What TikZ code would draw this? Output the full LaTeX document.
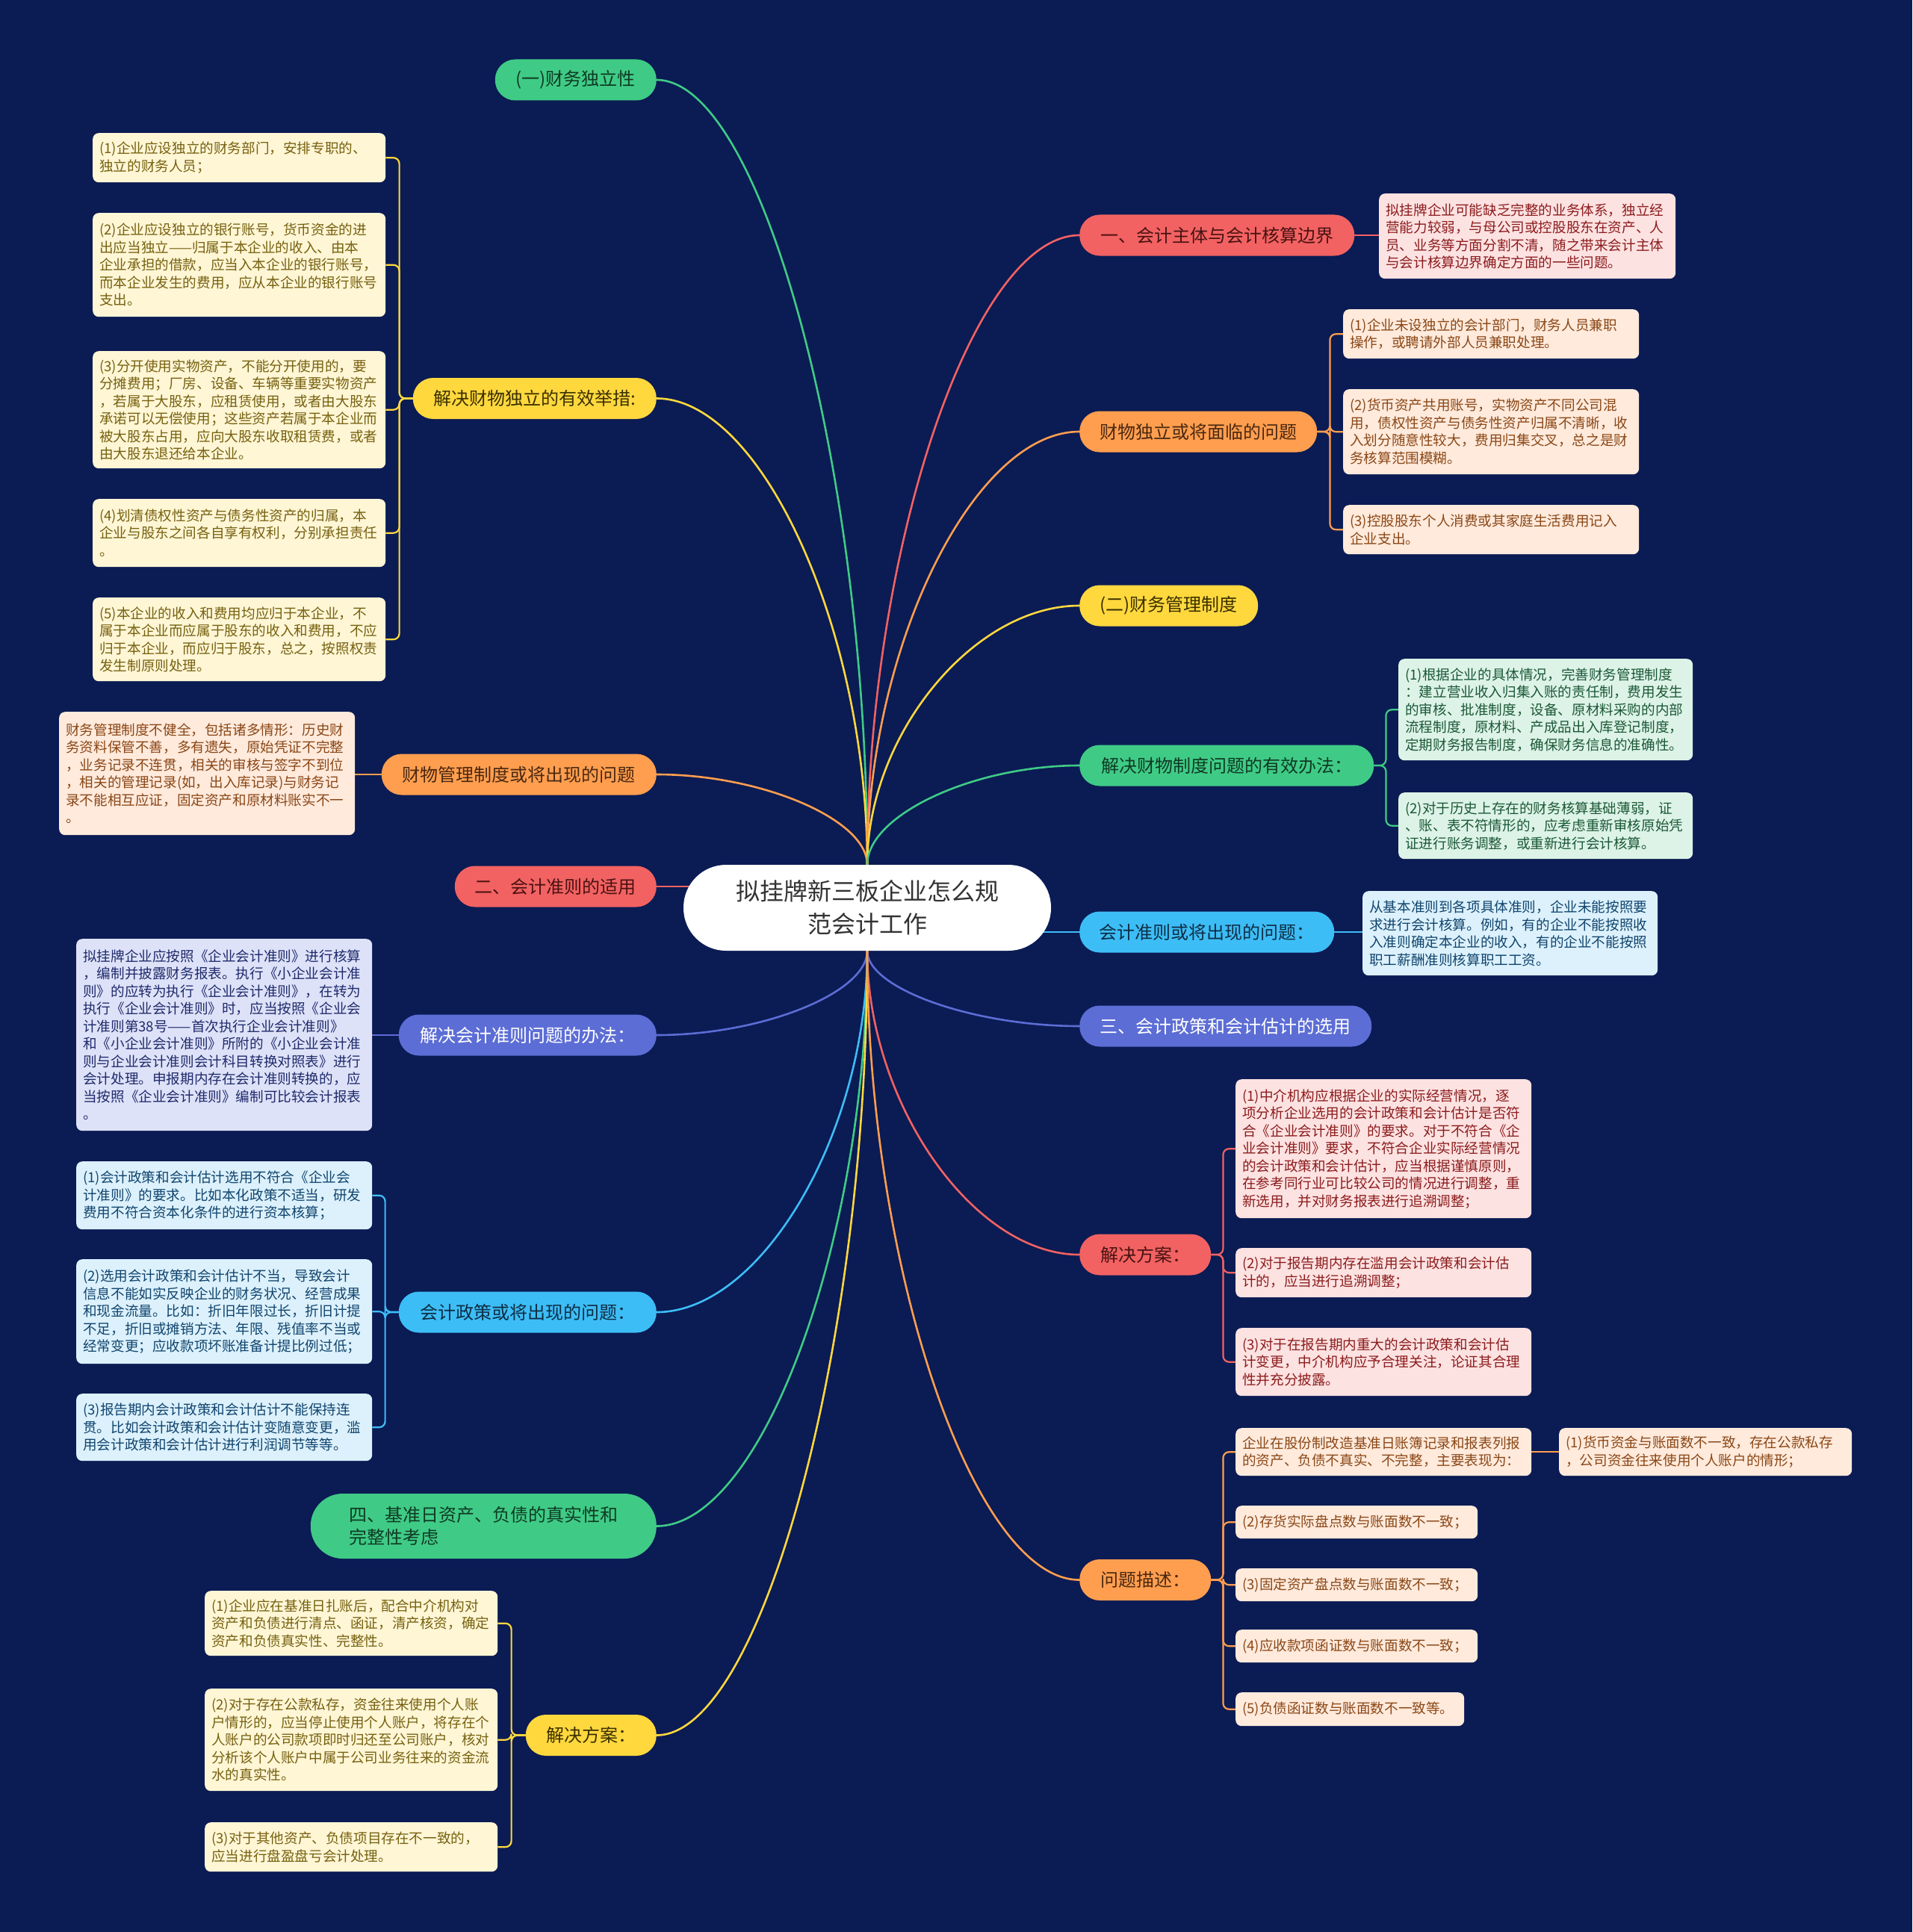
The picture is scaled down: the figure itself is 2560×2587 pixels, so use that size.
\documentclass[tikz,border=0pt]{standalone}
\usepackage{fontspec}
\setmainfont{Noto Sans CJK SC}
\usetikzlibrary{calc}
\pgfdeclarelayer{bg}
\pgfsetlayers{bg,main}
\definecolor{bgc}{HTML}{0B1B54}
\definecolor{cred}{HTML}{F26262}
\definecolor{corg}{HTML}{FF9E4F}
\definecolor{cyel}{HTML}{FFD83E}
\definecolor{cgrn}{HTML}{3FCB86}
\definecolor{cblu}{HTML}{3DBDF6}
\definecolor{cind}{HTML}{5C6DD5}
\definecolor{tred}{HTML}{4A1212}
\definecolor{torg}{HTML}{4A2810}
\definecolor{tyel}{HTML}{3A3000}
\definecolor{tgrn}{HTML}{0F3A24}
\definecolor{tblu}{HTML}{0D2E45}
\definecolor{lyel}{HTML}{FFF6D6}
\definecolor{lorg}{HTML}{FFEADC}
\definecolor{lred}{HTML}{FDE2E2}
\definecolor{lgrn}{HTML}{DDF3E7}
\definecolor{lblu}{HTML}{DCF1FC}
\definecolor{lind}{HTML}{DEE2F8}
\definecolor{kyel}{HTML}{76610F}
\definecolor{korg}{HTML}{8A4716}
\definecolor{kred}{HTML}{8C1C1C}
\definecolor{kgrn}{HTML}{1B5836}
\definecolor{kblu}{HTML}{11456E}
\definecolor{kind}{HTML}{1E2A6B}
\tikzset{
  mnode/.style={rounded corners=27pt, minimum height=55pt, inner xsep=10pt, inner ysep=0pt, font=\fontsize{24}{30}\selectfont},
  mred/.style={mnode, fill=cred, text=tred},
  morg/.style={mnode, fill=corg, text=torg},
  myel/.style={mnode, fill=cyel, text=tyel},
  mgrn/.style={mnode, fill=cgrn, text=tgrn},
  mblu/.style={mnode, fill=cblu, text=tblu},
  mind/.style={mnode, fill=cind, text=white},
  lf/.style={rounded corners=8pt, anchor=north west, inner xsep=9pt, inner ysep=0pt, align=left, font=\fontsize{18.6}{23.5}\selectfont},
  fyel/.style={lf, fill=lyel, text=kyel},
  forg/.style={lf, fill=lorg, text=korg},
  fred/.style={lf, fill=lred, text=kred},
  fgrn/.style={lf, fill=lgrn, text=kgrn},
  fblu/.style={lf, fill=lblu, text=kblu},
  find/.style={lf, fill=lind, text=kind},
  lk/.style={line width=2.6pt},
  bk/.style={line width=2.2pt, rounded corners=8pt},
}
\newcommand\mmlink[3]{\draw[lk,#1] (#2) .. controls ($(#2)!0.5!(#2 -| #3)$) and ($(#3)!0.5!(#3 |- #2)$) .. (#3);}
\newcommand\brk[4]{\draw[bk,#1] (#2) -- ++(#3,0) |- (#4);}
\begin{document}
\begin{tikzpicture}[x=1pt,y=-1pt]
\begin{pgfonlayer}{bg}
\fill[bgc] (0,0) rectangle (2560,2587);
\end{pgfonlayer}
\useasboundingbox (0,0) rectangle (2560,2587);

% center
\node[fill=white, rounded corners=57pt, minimum width=492pt, minimum height=115pt, align=center, text=black!80, font=\fontsize{32}{44}\selectfont] (C) at (1161,1215.5) {拟挂牌新三板企业怎么规\\范会计工作};

% main nodes left
\node[mgrn, anchor=east, minimum width=216pt] (n1) at (879,107) {(一)财务独立性};
\node[myel, anchor=east, minimum width=326pt] (n2) at (879,533.5) {解决财物独立的有效举措:};
\node[morg, anchor=east, minimum width=368pt] (n3) at (879,1037) {财物管理制度或将出现的问题};
\node[mred, anchor=east, minimum width=270pt] (n4) at (879,1187) {二、会计准则的适用};
\node[mind, anchor=east, minimum width=345pt] (n5) at (879,1386) {解决会计准则问题的办法：};
\node[mblu, anchor=east, minimum width=345pt] (n6) at (879,1757) {会计政策或将出现的问题：};
\node[mgrn, anchor=east, minimum width=463pt, minimum height=87pt, rounded corners=43pt, align=left] (n7) at (879,2043.5) {四、基准日资产、负债的真实性和\\完整性考虑};
\node[myel, anchor=east, minimum width=175pt] (n8) at (879,2323.5) {解决方案：};

% main nodes right
\node[mred, anchor=west, minimum width=368pt] (n9) at (1445,315) {一、会计主体与会计核算边界};
\node[morg, anchor=west, minimum width=318pt] (n10) at (1445,578) {财物独立或将面临的问题};
\node[myel, anchor=west, minimum width=239pt] (n11) at (1445,811) {(二)财务管理制度};
\node[mgrn, anchor=west, minimum width=394pt] (n12) at (1445,1025) {解决财物制度问题的有效办法：};
\node[mblu, anchor=west, minimum width=341pt] (n13) at (1445,1248) {会计准则或将出现的问题：};
\node[mind, anchor=west, minimum width=391pt] (n14) at (1445,1374) {三、会计政策和会计估计的选用};
\node[mred, anchor=west, minimum width=176pt] (n15) at (1445,1680) {解决方案：};
\node[morg, anchor=west, minimum width=176pt] (n16) at (1445,2115.5) {问题描述：};

% left leaves
\node[fyel, text width=374pt, minimum height=66pt] (a1) at (124,178) {(1)企业应设独立的财务部门，安排专职的、\\独立的财务人员；};
\node[fyel, text width=374pt, minimum height=139pt] (a2) at (124,285) {(2)企业应设独立的银行账号，货币资金的进\\出应当独立——归属于本企业的收入、由本\\企业承担的借款，应当入本企业的银行账号，\\而本企业发生的费用，应从本企业的银行账号\\支出。};
\node[fyel, text width=374pt, minimum height=157pt] (a3) at (124,470) {(3)分开使用实物资产，不能分开使用的，要\\分摊费用；厂房、设备、车辆等重要实物资产\\，若属于大股东，应租赁使用，或者由大股东\\承诺可以无偿使用；这些资产若属于本企业而\\被大股东占用，应向大股东收取租赁费，或者\\由大股东退还给本企业。};
\node[fyel, text width=374pt, minimum height=91pt] (a4) at (124,668) {(4)划清债权性资产与债务性资产的归属，本\\企业与股东之间各自享有权利，分别承担责任\\。};
\node[fyel, text width=374pt, minimum height=112pt] (a5) at (124,800) {(5)本企业的收入和费用均应归于本企业，不\\属于本企业而应属于股东的收入和费用，不应\\归于本企业，而应归于股东，总之，按照权责\\发生制原则处理。};

\node[forg, text width=378pt, minimum height=165pt] (m1) at (79,953) {财务管理制度不健全，包括诸多情形：历史财\\务资料保管不善，多有遗失，原始凭证不完整\\，业务记录不连贯，相关的审核与签字不到位\\，相关的管理记录(如，出入库记录)与财务记\\录不能相互应证，固定资产和原材料账实不一\\。};

\node[find, text width=378pt, minimum height=257pt] (k1) at (102,1257) {拟挂牌企业应按照《企业会计准则》进行核算\\，编制并披露财务报表。执行《小企业会计准\\则》的应转为执行《企业会计准则》，在转为\\执行《企业会计准则》时，应当按照《企业会\\计准则第38号——首次执行企业会计准则》\\和《小企业会计准则》所附的《小企业会计准\\则与企业会计准则会计科目转换对照表》进行\\会计处理。申报期内存在会计准则转换的，应\\当按照《企业会计准则》编制可比较会计报表\\。};

\node[fblu, text width=378pt, minimum height=91pt] (p1) at (102,1555) {(1)会计政策和会计估计选用不符合《企业会\\计准则》的要求。比如本化政策不适当，研发\\费用不符合资本化条件的进行资本核算；};
\node[fblu, text width=378pt, minimum height=140pt] (p2) at (102,1686) {(2)选用会计政策和会计估计不当，导致会计\\信息不能如实反映企业的财务状况、经营成果\\和现金流量。比如：折旧年限过长，折旧计提\\不足，折旧或摊销方法、年限、残值率不当或\\经常变更；应收款项坏账准备计提比例过低；};
\node[fblu, text width=378pt, minimum height=90pt] (p3) at (102,1866) {(3)报告期内会计政策和会计估计不能保持连\\贯。比如会计政策和会计估计变随意变更，滥\\用会计政策和会计估计进行利润调节等等。};

\node[fyel, text width=374pt, minimum height=87pt] (q1) at (274,2130) {(1)企业应在基准日扎账后，配合中介机构对\\资产和负债进行清点、函证，清产核资，确定\\资产和负债真实性、完整性。};
\node[fyel, text width=374pt, minimum height=137pt] (q2) at (274,2261) {(2)对于存在公款私存，资金往来使用个人账\\户情形的，应当停止使用个人账户，将存在个\\人账户的公司款项即时归还至公司账户，核对\\分析该个人账户中属于公司业务往来的资金流\\水的真实性。};
\node[fyel, text width=374pt, minimum height=66pt] (q3) at (274,2440) {(3)对于其他资产、负债项目存在不一致的，\\应当进行盘盈盘亏会计处理。};

% right leaves
\node[fred, text width=379pt, minimum height=114pt] (r1) at (1846,259) {拟挂牌企业可能缺乏完整的业务体系，独立经\\营能力较弱，与母公司或控股股东在资产、人\\员、业务等方面分割不清，随之带来会计主体\\与会计核算边界确定方面的一些问题。};

\node[forg, text width=378pt, minimum height=66pt] (b1) at (1798,414) {(1)企业未设独立的会计部门，财务人员兼职\\操作，或聘请外部人员兼职处理。};
\node[forg, text width=378pt, minimum height=114pt] (b2) at (1798,521) {(2)货币资产共用账号，实物资产不同公司混\\用，债权性资产与债务性资产归属不清晰，收\\入划分随意性较大，费用归集交叉，总之是财\\务核算范围模糊。};
\node[forg, text width=378pt, minimum height=66pt] (b3) at (1798,676) {(3)控股股东个人消费或其家庭生活费用记入\\企业支出。};

\node[fgrn, text width=376pt, minimum height=136pt] (g1) at (1872,882) {(1)根据企业的具体情况，完善财务管理制度\\：建立营业收入归集入账的责任制，费用发生\\的审核、批准制度，设备、原材料采购的内部\\流程制度，原材料、产成品出入库登记制度，\\定期财务报告制度，确保财务信息的准确性。};
\node[fgrn, text width=376pt, minimum height=89pt] (g2) at (1872,1061) {(2)对于历史上存在的财务核算基础薄弱，证\\、账、表不符情形的，应考虑重新审核原始凭\\证进行账务调整，或重新进行会计核算。};

\node[fblu, text width=377pt, minimum height=113pt] (d1) at (1824,1193) {从基本准则到各项具体准则，企业未能按照要\\求进行会计核算。例如，有的企业不能按照收\\入准则确定本企业的收入，有的企业不能按照\\职工薪酬准则核算职工工资。};

\node[fred, text width=378pt, minimum height=186pt] (e1) at (1654,1445) {(1)中介机构应根据企业的实际经营情况，逐\\项分析企业选用的会计政策和会计估计是否符\\合《企业会计准则》的要求。对于不符合《企\\业会计准则》要求，不符合企业实际经营情况\\的会计政策和会计估计，应当根据谨慎原则，\\在参考同行业可比较公司的情况进行调整，重\\新选用，并对财务报表进行追溯调整；};
\node[fred, text width=378pt, minimum height=66pt] (e2) at (1654,1671) {(2)对于报告期内存在滥用会计政策和会计估\\计的，应当进行追溯调整；};
\node[fred, text width=378pt, minimum height=91pt] (e3) at (1654,1778) {(3)对于在报告期内重大的会计政策和会计估\\计变更，中介机构应予合理关注，论证其合理\\性并充分披露。};

\node[forg, text width=378pt, minimum height=64pt] (h0) at (1654,1912) {企业在股份制改造基准日账簿记录和报表列报\\的资产、负债不真实、不完整，主要表现为：};
\node[forg, text width=374pt, minimum height=64pt] (h1) at (2087,1912) {(1)货币资金与账面数不一致，存在公款私存\\，公司资金往来使用个人账户的情形；};
\node[forg, text width=306pt, minimum height=44pt] (h2) at (1654,2016) {(2)存货实际盘点数与账面数不一致；};
\node[forg, text width=306pt, minimum height=44pt] (h3) at (1654,2100) {(3)固定资产盘点数与账面数不一致；};
\node[forg, text width=306pt, minimum height=44pt] (h4) at (1654,2182) {(4)应收款项函证数与账面数不一致；};
\node[forg, text width=288pt, minimum height=45pt] (h5) at (1654,2266) {(5)负债函证数与账面数不一致等。};

\begin{pgfonlayer}{bg}
% main links
\mmlink{cgrn}{n1.east}{C.north}
\mmlink{cyel}{n2.east}{C.north}
\mmlink{corg}{n3.east}{C.north}
\draw[lk,cred] (n4.east) -- (n4.east -| C.center);
\mmlink{cind}{n5.east}{C.south}
\mmlink{cblu}{n6.east}{C.south}
\mmlink{cgrn}{n7.east}{C.south}
\mmlink{cyel}{n8.east}{C.south}
\mmlink{cred}{n9.west}{C.north}
\mmlink{corg}{n10.west}{C.north}
\mmlink{cyel}{n11.west}{C.north}
\mmlink{cgrn}{n12.west}{C.north}
\draw[lk,cblu] (n13.west) -- (n13.west -| C.center);
\mmlink{cind}{n14.west}{C.south}
\mmlink{cred}{n15.west}{C.south}
\mmlink{corg}{n16.west}{C.south}
% leaf links
\brk{cyel}{n2.west}{-18}{a1.east}
\brk{cyel}{n2.west}{-18}{a2.east}
\brk{cyel}{n2.west}{-18}{a3.east}
\brk{cyel}{n2.west}{-18}{a4.east}
\brk{cyel}{n2.west}{-18}{a5.east}
\draw[bk,corg] (n3.west) -- (n3.west -| m1.east);
\draw[bk,cind] (n5.west) -- (n5.west -| k1.east);
\brk{cblu}{n6.west}{-18}{p1.east}
\brk{cblu}{n6.west}{-18}{p2.east}
\brk{cblu}{n6.west}{-18}{p3.east}
\brk{cyel}{n8.west}{-19}{q1.east}
\brk{cyel}{n8.west}{-19}{q2.east}
\brk{cyel}{n8.west}{-19}{q3.east}
\draw[bk,cred] (n9.east) -- (n9.east -| r1.west);
\brk{corg}{n10.east}{17}{b1.west}
\brk{corg}{n10.east}{17}{b2.west}
\brk{corg}{n10.east}{17}{b3.west}
\brk{cgrn}{n12.east}{16}{g1.west}
\brk{cgrn}{n12.east}{16}{g2.west}
\draw[bk,cblu] (n13.east) -- (n13.east -| d1.west);
\brk{cred}{n15.east}{16}{e1.west}
\brk{cred}{n15.east}{16}{e2.west}
\brk{cred}{n15.east}{16}{e3.west}
\brk{corg}{n16.east}{16}{h0.west}
\brk{corg}{n16.east}{16}{h2.west}
\brk{corg}{n16.east}{16}{h3.west}
\brk{corg}{n16.east}{16}{h4.west}
\brk{corg}{n16.east}{16}{h5.west}
\draw[bk,corg] (h0.east) -- (h0.east -| h1.west);
\end{pgfonlayer}
\end{tikzpicture}
\end{document}
